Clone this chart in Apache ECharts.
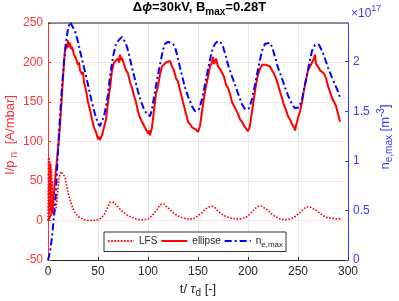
<!DOCTYPE html>
<html><head><meta charset="utf-8">
<script src="https://cdn.jsdelivr.net/npm/echarts@6/dist/echarts.min.js"></script>
<style>html,body{margin:0;padding:0;background:#fff}#c{width:399px;height:301px}</style>
</head><body><div id="c"></div>
<script>
// ---- data ----
var xTicks = [0, 50, 100, 150, 200, 250, 300];
var leftTicks = [-50, 0, 50, 100, 150, 200, 250];
var rightTicks = [0, 0.5, 1, 1.5, 2];

var lfsX = [0,0.4,0.8,1.2,1.6,2.0,2.4,2.8,3.2,3.6,4.0,4.5,5,5.5,6,7,8,9,10,11,12,13,14,15,17,19,21,23,25,27,30,33,36,40,45,50,53,56,58,60,62,64,66,68,70,73,76,80,84,88,92,96,100,103,106,109,112,114,116,118,121,124,127,131,135,140,145,148,151,154,157,160,162,164,167,170,174,178,183,188,193,198,201,204,207,210,212,214,217,220,223,227,232,237,242,246,249,252,255,258,260,262,265,268,271,274,278,283,288,293];
var lfsY = [0,78,5,80,8,75,10,72,12,65,10,50,10,30,8,12,15,25,40,52,58,62,60,60,55,42,30,22,15,10,5,3,1,0,0,1,3,7,12,18,23,25,23,20,18,13,10,6,4,2,1,1,2,5,9,14,20,22,21,18,15,11,8,5,3,2,2,4,7,10,14,17,19,18,16,12,8,5,3,2,2,4,7,11,15,18,19,18,15,13,9,5,2,1,2,4,7,10,14,17,18,17,15,13,10,7,4,3,2,2];

var ellX = [0,2,4,6,8,10,12,14,16,17,18,19,20,21,22,23,24,26,28,30,31,32,34,35,36,38,40,42,44,46,48,50,51,52,54,56,58,60,62,64,66,68,70,71,72,73,74,76,78,80,82,84,86,88,90,92,94,96,98,100,101,102,104,106,108,110,112,114,116,118,120,122,124,126,128,130,132,134,136,138,140,142,144,146,148,150,152,154,156,158,160,162,164,165,166,168,170,172,174,176,178,180,182,184,186,188,190,192,194,196,198,200,202,204,206,208,210,212,214,216,218,220,222,224,226,228,230,232,234,236,238,240,242,244,246,247,248,250,252,254,256,258,260,262,264,266,267,268,270,272,274,276,278,280,282,284,286,288,290,292];
var ellY = [0,2,10,35,65,90,120,160,200,215,222,218,228,220,225,217,220,210,205,197,200,190,185,188,175,165,150,140,128,118,112,103,106,102,108,110,128,150,168,190,200,198,205,200,210,203,206,198,190,186,175,168,158,150,138,130,128,120,118,110,114,108,118,140,160,170,185,195,197,200,198,202,195,190,180,176,165,155,145,135,125,122,118,120,115,112,120,138,155,170,182,195,200,207,198,205,195,192,190,182,172,168,160,150,145,140,135,128,125,120,118,113,120,138,155,172,185,192,197,196,197,196,195,190,186,180,172,163,155,146,140,132,128,122,118,114,120,130,138,150,165,178,190,195,200,205,210,198,195,190,188,186,180,170,163,155,150,145,135,125];

var neX = [0,2,4,6,8,10,12,14,16,18,20,22,24,27,30,32,35,37,40,42,45,47,50,52,54,56,58,60,62,65,68,71,74,77,79,82,84,87,90,93,96,99,102,104,107,110,112,115,117,120,122,125,127,130,132,135,137,140,144,147,149,151,154,157,159,162,164,167,170,173,175,178,180,184,187,190,194,197,199,201,204,207,209,212,214,217,219,222,224,227,230,234,237,240,244,247,249,251,254,257,259,262,264,267,269,271,274,277,280,284,287,290,292];
var neY = [0,0.08,0.23,0.44,0.68,1.1,1.45,1.75,2.0,2.2,2.33,2.40,2.38,2.31,2.2,2.11,1.98,1.9,1.77,1.67,1.55,1.47,1.38,1.35,1.37,1.45,1.55,1.67,1.85,2.05,2.18,2.22,2.25,2.2,2.15,2.03,1.94,1.82,1.70,1.6,1.52,1.47,1.45,1.52,1.70,1.87,1.97,2.12,2.18,2.2,2.21,2.18,2.15,2.03,1.94,1.82,1.74,1.65,1.55,1.50,1.49,1.52,1.62,1.77,1.87,2.02,2.11,2.18,2.21,2.19,2.15,2.05,1.97,1.85,1.77,1.68,1.57,1.52,1.50,1.53,1.62,1.77,1.87,2.02,2.11,2.18,2.20,2.19,2.15,2.05,1.94,1.83,1.74,1.66,1.57,1.53,1.52,1.54,1.62,1.77,1.87,2.02,2.11,2.17,2.19,2.17,2.11,2.03,1.94,1.84,1.77,1.70,1.64];

function pairs(xs, ys){ return xs.map(function(x,i){ return [x, ys[i]]; }); }

var RED = '#ff0000', BLUE = '#0000ff';
var RED_T = '#ff3333', BLUE_T = '#3a3aff';
var FONT = 'Liberation Sans';

var chart = echarts.init(document.getElementById('c'), null, {renderer:'canvas'});
chart.setOption({
  animation: false,
  backgroundColor: '#fff',
  textStyle: {fontFamily: FONT},
  grid: {left: 48, right: 51, top: 23, bottom: 41},
  xAxis: {
    type: 'value', min: 0, max: 300, interval: 50,
    axisLine: {show: true, onZero: false, lineStyle: {color: '#262626', width: 1}},
    axisTick: {show: true, inside: true, length: 3, lineStyle: {color: '#262626'}},
    axisLabel: {color: '#262626', fontSize: 12, margin: 6, fontFamily: FONT, customValues: xTicks},
    splitLine: {show: true, lineStyle: {color: '#e6e6e6', width: 1}}
  },
  yAxis: [{
    type: 'value', min: -50, max: 250, interval: 50, position: 'left',
    axisLine: {show: true, onZero: false, lineStyle: {color: RED_T, width: 1}},
    axisTick: {show: true, inside: true, length: 3, lineStyle: {color: RED_T}},
    axisLabel: {color: RED_T, fontSize: 12, margin: 5, fontFamily: FONT, customValues: leftTicks},
    splitLine: {show: true, lineStyle: {color: '#fbe3e3', width: 1}}
  }, {
    type: 'value', min: 0, max: 2.39, interval: 0.5, position: 'right',
    axisLine: {show: true, onZero: false, lineStyle: {color: BLUE_T, width: 1}},
    axisTick: {show: true, inside: true, length: 3, lineStyle: {color: BLUE_T}, customValues: rightTicks},
    axisLabel: {color: BLUE_T, fontSize: 12, margin: 5, fontFamily: FONT, customValues: rightTicks},
    splitLine: {show: false}
  }],
  legend: {
    left: 104, top: 232, orient: 'horizontal',
    data: ['LFS', 'ellipse', 'ne'],
    itemWidth: 26, itemHeight: 10, itemGap: 3,
    padding: [4, 3, 3, 3],
    itemStyle: {opacity: 0},
    backgroundColor: '#fff', borderColor: '#333', borderWidth: 1, borderRadius: 0,
    textStyle: {color: '#262626', fontSize: 10, fontFamily: FONT,
      rich: {n: {fontSize: 10, fontFamily: FONT, color: '#262626'}, s: {fontSize: 8, fontFamily: FONT, color: '#262626', padding: [7,0,0,0]}}},
    formatter: function(name){ return name === 'ne' ? '{n|n}{s|e,max}' : name; }
  },
  graphic: [
    {type: 'text', left: 'center', top: 1, style: {
      text: '{b|Δ}{i|ϕ}{b|=30kV, B}{s|max}{b|=0.28T}',
      rich: {
        b: {fontSize: 13, fontWeight: 'bold', fontFamily: FONT, fill: '#000'},
        i: {fontSize: 13, fontWeight: 'bold', fontStyle: 'italic', fontFamily: FONT, fill: '#000'},
        s: {fontSize: 10, fontWeight: 'bold', fontFamily: FONT, fill: '#000', padding: [9,0,0,0]}
      }}},
    {type: 'text', x: 351, y: 2, style: {
      text: '{a|×10}{p|17}',
      rich: {a: {fontSize: 12, fontFamily: FONT, fill: BLUE_T, padding: [6,0,0,0]}, p: {fontSize: 9, fontFamily: FONT, fill: BLUE_T, padding: [0,0,4,0]}}}},
    {type: 'text', x: 10, y: 135, rotation: Math.PI/2, style: {
      text: '{a|I/p}{s|n}{a| [A/mbar]}', align: 'center', verticalAlign: 'middle',
      rich: {a: {fontSize: 13, fontFamily: FONT, fill: RED_T}, s: {fontSize: 10, fontFamily: FONT, fill: RED_T, padding: [8,4,0,3]}}}},
    {type: 'text', x: 385, y: 137, rotation: Math.PI/2, style: {
      text: '{a|n}{s|e,max}{a| [m}{p|-3}{a|]}', align: 'center', verticalAlign: 'middle',
      rich: {a: {fontSize: 13, fontFamily: FONT, fill: BLUE_T}, s: {fontSize: 10, fontFamily: FONT, fill: BLUE_T, padding: [8,0,0,0]}, p: {fontSize: 10, fontFamily: FONT, fill: BLUE_T, padding: [0,0,7,0]}}}},
    {type: 'text', x: 198, y: 289, style: {
      text: '{a|t/ }{i|τ}{s|d}{a| [-]}', align: 'center', verticalAlign: 'middle',
      rich: {a: {fontSize: 13, fontFamily: FONT, fill: '#262626'}, i: {fontSize: 13, fontStyle: 'italic', fontFamily: FONT, fill: '#262626'}, s: {fontSize: 10, fontFamily: FONT, fill: '#262626', padding: [8,0,0,0]}}}},
    {type: 'line', shape: {x1: 48, y1: 23, x2: 348, y2: 23}, style: {stroke: '#262626', lineWidth: 1}, z: 100}
  ],
  series: [
    {name: 'LFS', type: 'line', yAxisIndex: 0, data: pairs(lfsX, lfsY), symbol: 'none', smooth: false,
      lineStyle: {color: RED, width: 1.6, type: [1.6, 1.6]}, itemStyle: {color: RED}, z: 3},
    {name: 'ellipse', type: 'line', yAxisIndex: 0, data: pairs(ellX, ellY), symbol: 'none',
      lineStyle: {color: RED, width: 2}, itemStyle: {color: RED}, z: 4},
    {name: 'ne', type: 'line', yAxisIndex: 1, data: pairs(neX, neY), symbol: 'none',
      lineStyle: {color: BLUE, width: 2, type: [7, 3, 2, 3]}, itemStyle: {color: BLUE}, z: 5}
  ]
});
</script>
</body></html>
